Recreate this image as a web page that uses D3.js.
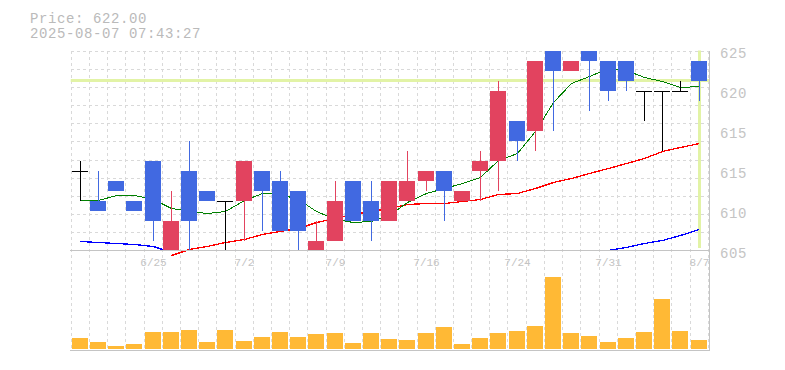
<!DOCTYPE html>
<html lang="en">
    <head>
        <meta charset="utf-8">
        <title> candle chart </title>
        <script src="https://d3js.org/d3.v7.min.js"></script>
        <style type="text/css">
        body { margin: 0; background: #fff; }
        .grid { stroke: #d9d9d9; stroke-width: 1px; stroke-dasharray: 3,3; shape-rendering: crispEdges; }
        .frame { stroke: #c4c4c4; stroke-width: 1px; shape-rendering: crispEdges; }
        .mono { font-family: "Liberation Mono", "DejaVu Sans Mono", monospace; }
        .ma { fill: none; shape-rendering: crispEdges; }
        </style>
    </head>
    <body>
    <script type="text/javascript">

// trading days
var dates = ["6/19","6/20","6/23","6/24","6/25","6/26","6/27","6/30","7/1","7/2",
             "7/3","7/4","7/7","7/8","7/9","7/10","7/11","7/14","7/15","7/16",
             "7/17","7/18","7/22","7/23","7/24","7/25","7/28","7/29","7/30","7/31",
             "8/1","8/4","8/5","8/6","8/7"];
var dateLabels = ["6/25","7/2","7/9","7/16","7/24","7/31","8/7"];

// prices
var open  = [613,610,612,610,614,605,613,611,610,610,613,612,611,605,606,612,610,608,610,612,
             613,610,613,614,618,617,625,623,625,624,624,621,621,621,624];
var close = [613,609,611,609,608,608,608,610,610,614,611,607,607,606,610,608,608,612,612,613,
             611,611,614,621,616,624,623,624,624,621,622,621,621,621,622];
var high  = [614,613,612,610,614,611,616,611,610,614,613,613,611,608,612,612,612,612,615,613,
             613,611,615,622,618,624,625,624,625,624,624,621,621,622,624];
var low   = [610,609,611,609,606,605,605,610,605,606,607,607,605,605,606,608,606,608,610,611,
             608,610,610,611,614,615,617,623,619,620,621,618,615,621,620];

// moving averages
var maShort = [610.0,610.0,610.5,610.5,610.1,609.2,608.9,608.7,608.9,610.0,
               610.7,610.6,610.1,608.9,608.1,607.8,607.9,608.5,609.8,610.7,
               611.2,611.7,612.3,614.0,614.7,616.9,619.8,621.7,622.4,623.2,
               623.0,622.3,621.9,621.3,621.4];
var maMid = [null,null,null,null,null,604.5,605.1,605.4,605.8,606.1,
             606.6,606.9,607.2,607.8,608.2,608.6,608.9,609.2,609.6,609.7,
             609.7,609.9,610.1,610.6,610.7,611.2,611.8,612.2,612.7,613.2,
             613.7,614.2,614.9,615.3,615.7];
var maLong = [605.9,605.8,605.7,605.6,605.4,604.8,null,null,null,null,
              null,null,null,null,null,null,null,null,null,null,
              null,null,null,null,null,null,null,null,null,605.0,
              605.3,605.7,606.0,606.5,607.1];

// volume
var volume = [110,70,30,50,170,170,190,70,190,80,120,170,120,150,160,60,160,100,90,160,
              220,50,110,160,180,230,723,160,130,70,110,170,500,180,90];

var price = 622.00;
var stamp = "2025-08-07 07:43:27";

var priceMin = 605, priceMax = 625;
var yTickVals = [625,621,617,613,609,605];
var yTickLabels = ["625","620","615","615","610","605"];

var w = 785, h = 370;
var left = 70.7, right = 707.7;

var svg = d3.select("body")
            .append("svg")
            .attr("width", w)
            .attr("height", h);

var xScale = d3.scaleBand()
               .domain(d3.range(dates.length))
               .range([left, right]);
var bw = xScale.bandwidth();
var cx = i => Math.round(xScale(i) + bw / 2);

var yScale = d3.scaleLinear()
               .domain([priceMin, priceMax])
               .range([250.5, 50.5]);

var volScale = d3.scaleLinear()
                 .domain([0, d3.max(volume)])
                 .range([349, 276.7]);

// grid - square cells, one per trading day
var gridY = d3.range(1, 12).map(k => priceMin + k * (priceMax - priceMin) / 11);
svg.append("g").selectAll("line")
   .data(gridY).enter().append("line")
   .attr("class", "grid")
   .attr("x1", left).attr("x2", right + 1)
   .attr("y1", d => Math.round(yScale(d)) + 0.5)
   .attr("y2", d => Math.round(yScale(d)) + 0.5);

var gridX = d3.range(dates.length).map(i => xScale(i)).concat([right]);
svg.append("g").selectAll("line")
   .data(gridX).enter().append("line")
   .attr("class", "grid")
   .attr("x1", d => Math.round(d) + 0.5).attr("x2", d => Math.round(d) + 0.5)
   .attr("y1", yScale(priceMax)).attr("y2", volScale(0));

// current price highlight
var hl = "#e2f3a6";
svg.append("line")
   .attr("x1", left).attr("x2", right + 2)
   .attr("y1", yScale(price)).attr("y2", yScale(price))
   .attr("stroke", hl).attr("stroke-width", 3);
svg.append("line")
   .attr("x1", cx(dates.length - 1) + 0.5).attr("x2", cx(dates.length - 1) + 0.5)
   .attr("y1", yScale(priceMax)).attr("y2", yScale(605.25))
   .attr("stroke", hl).attr("stroke-width", 3);

// clip for the long average
svg.append("clipPath").attr("id", "area")
   .append("rect")
   .attr("x", left).attr("y", yScale(priceMax))
   .attr("width", right - left + 2)
   .attr("height", yScale(priceMin) - yScale(priceMax));

var lineGen = d3.line()
                .defined(d => d != null)
                .x((d, i) => cx(i) + 0.5)
                .y(d => yScale(d));

svg.append("path").datum(maLong)
   .attr("class", "ma").attr("d", lineGen)
   .attr("stroke", "#0000ff").attr("stroke-width", 1.3)
   .attr("clip-path", "url(#area)");
svg.append("path").datum(maMid)
   .attr("class", "ma").attr("d", lineGen)
   .attr("stroke", "#ff0000").attr("stroke-width", 1.3);
svg.append("path").datum(maShort)
   .attr("class", "ma").attr("d", lineGen)
   .attr("stroke", "#008000").attr("stroke-width", 1);

// candles
var upCol = "#e2435f", downCol = "#4169e1";
var colorOf = i => close[i] > open[i] ? upCol : (close[i] < open[i] ? downCol : "#000");

var candles = svg.append("g").selectAll("g")
                 .data(d3.range(dates.length)).enter().append("g")
                 .attr("shape-rendering", "crispEdges");

candles.append("line")
       .attr("x1", i => cx(i) + 0.5).attr("x2", i => cx(i) + 0.5)
       .attr("y1", i => yScale(high[i])).attr("y2", i => yScale(low[i]))
       .attr("stroke", colorOf).attr("stroke-width", 1);

candles.filter(i => open[i] != close[i])
       .append("rect")
       .attr("x", i => cx(i) - 8)
       .attr("width", 16)
       .attr("y", i => yScale(Math.max(open[i], close[i])))
       .attr("height", i => yScale(Math.min(open[i], close[i])) - yScale(Math.max(open[i], close[i])))
       .attr("fill", colorOf);

candles.filter(i => open[i] == close[i])
       .append("line")
       .attr("x1", i => cx(i) - 8).attr("x2", i => cx(i) + 8)
       .attr("y1", i => Math.round(yScale(open[i])) + 0.5)
       .attr("y2", i => Math.round(yScale(open[i])) + 0.5)
       .attr("stroke", "#000").attr("stroke-width", 1);

// volume bars
svg.append("g").selectAll("rect")
   .data(volume).enter().append("rect")
   .attr("shape-rendering", "crispEdges")
   .attr("x", (d, i) => cx(i) - 8)
   .attr("width", 16)
   .attr("y", d => volScale(d))
   .attr("height", d => volScale(0) - volScale(d))
   .attr("fill", "#ffb935");

// frame lines
svg.append("line").attr("class", "frame")
   .attr("x1", left - 1).attr("x2", right + 2.5)
   .attr("y1", yScale(priceMin)).attr("y2", yScale(priceMin));
svg.append("line").attr("class", "frame")
   .attr("x1", left - 1).attr("x2", right + 2.5)
   .attr("y1", volScale(0) + 1.5).attr("y2", volScale(0) + 1.5);
svg.append("line").attr("class", "frame")
   .attr("x1", right + 2).attr("x2", right + 2)
   .attr("y1", yScale(priceMax)).attr("y2", volScale(0) + 1.5);

// y labels
svg.append("g").selectAll("text")
   .data(yTickVals).enter().append("text")
   .attr("class", "mono")
   .attr("x", 720)
   .attr("y", d => yScale(d) + 7)
   .attr("font-size", "14px")
   .attr("letter-spacing", "0.6px")
   .attr("fill", "#c4c4c4")
   .text((d, i) => yTickLabels[i]);

// date labels
svg.append("g").selectAll("text")
   .data(dateLabels).enter().append("text")
   .attr("class", "mono")
   .attr("x", d => cx(dates.indexOf(d)) + 0.5)
   .attr("y", 266)
   .attr("text-anchor", "middle")
   .attr("font-size", "11px")
   .attr("fill", "#c4c4c4")
   .text(d => d);

// header
svg.append("text").attr("class", "mono")
   .attr("x", 30).attr("y", 22.5)
   .attr("font-size", "14px").attr("letter-spacing", "0.6px")
   .attr("fill", "#bababa")
   .text("Price: " + price.toFixed(2));
svg.append("text").attr("class", "mono")
   .attr("x", 30).attr("y", 37.5)
   .attr("font-size", "14px").attr("letter-spacing", "0.6px")
   .attr("fill", "#bababa")
   .text(stamp);

    </script>
    </body>
</html>
